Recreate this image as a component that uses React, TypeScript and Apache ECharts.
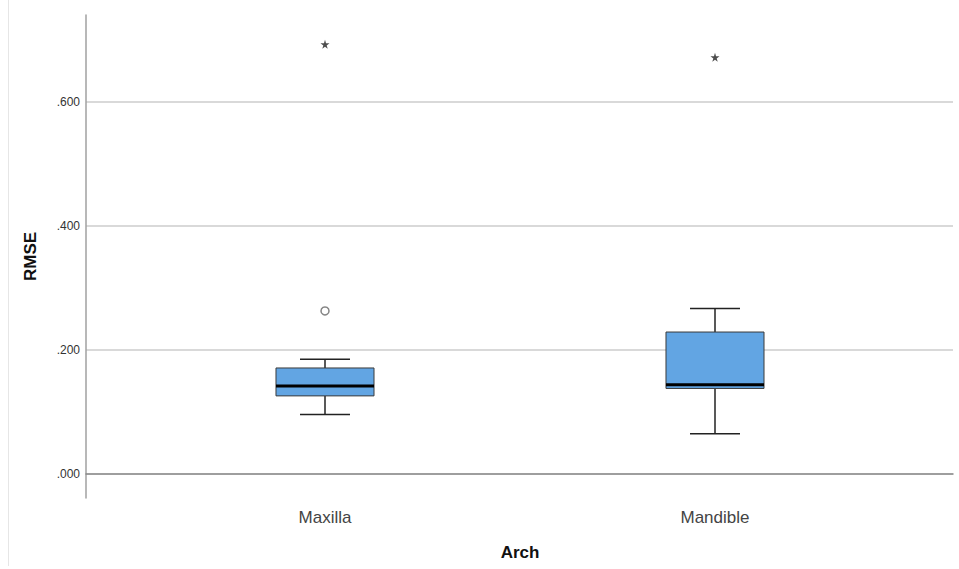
import React, { useEffect, useRef } from "react";
import * as echarts from "echarts";

const categories = ["Maxilla", "Mandible"];
const lowWhisker = [0.096, 0.065];
const q1Values = [0.126, 0.138];
const medianValues = [0.142, 0.144];
const q3Values = [0.171, 0.229];
const highWhisker = [0.185, 0.267];
const outlierPoints = [[0, 0.263]];
const extremePoints = [
  [0, 0.693],
  [1, 0.672],
];
const yMin = -0.0387;
const yMax = 0.7403;

const FONT = "'Liberation Sans', Arial, sans-serif";
const STAR =
  "path://M50,0 L61,35 L98,35 L68,57 L79,91 L50,70 L21,91 L32,57 L2,35 L39,35 Z";

export default function App() {
  const ref = useRef<HTMLDivElement>(null);

  useEffect(() => {
    if (!ref.current) return;
    const chart = echarts.init(ref.current, null, { renderer: "svg" });
    const boxData = categories.map((_, i) => [
      i,
      lowWhisker[i],
      q1Values[i],
      medianValues[i],
      q3Values[i],
      highWhisker[i],
    ]);

    chart.setOption({
      animation: false,
      backgroundColor: "#ffffff",
      textStyle: { fontFamily: FONT },
      graphic: [
        {
          type: "line",
          shape: { x1: 8.5, y1: 0, x2: 8.5, y2: 566 },
          style: { stroke: "#e6e6e6", lineWidth: 1 },
          silent: true,
        },
      ],
      grid: [
        { left: 86, right: 6, top: 15, bottom: 71 },
        { left: 130, right: 49, top: 15, bottom: 71 },
      ],
      xAxis: [
        {
          gridIndex: 0,
          type: "value",
          min: 0,
          max: 1,
          axisLine: { show: true, lineStyle: { color: "#8a8a8a", width: 1.5 } },
          axisTick: { show: false },
          axisLabel: { show: false },
          splitLine: { show: false },
        },
        {
          gridIndex: 1,
          type: "category",
          data: categories,
          axisLine: { show: false },
          axisTick: { show: false },
          axisLabel: {
            color: "#444",
            fontSize: 17,
            margin: 11,
            fontFamily: FONT,
          },
          name: "Arch",
          nameLocation: "middle",
          nameGap: 46,
          nameTextStyle: {
            color: "#111",
            fontSize: 17,
            fontWeight: "bold",
            fontFamily: FONT,
          },
        },
      ],
      yAxis: [
        {
          gridIndex: 0,
          type: "value",
          min: yMin,
          max: yMax,
          splitNumber: 4,
          axisLine: { show: true, lineStyle: { color: "#a0a0a0", width: 1.5 } },
          axisTick: { show: false },
          axisLabel: {
            color: "#333",
            fontSize: 12,
            margin: 6,
            showMinLabel: false,
            showMaxLabel: false,
            formatter: (v: number) => v.toFixed(3).replace(/^0/, ""),
          },
          splitLine: {
            show: true,
            showMinLine: false,
            showMaxLine: false,
            lineStyle: { color: "#d9d9d9", width: 2 },
          },
          name: "RMSE",
          nameLocation: "middle",
          nameGap: 47,
          nameTextStyle: {
            color: "#111",
            fontSize: 17,
            fontWeight: "bold",
            fontFamily: FONT,
          },
        },
        {
          gridIndex: 1,
          type: "value",
          min: yMin,
          max: yMax,
          show: false,
          splitLine: { show: false },
        },
      ],
      series: [
        {
          type: "custom",
          xAxisIndex: 1,
          yAxisIndex: 1,
          dimensions: ["x", "low", "q1", "med", "q3", "high"],
          encode: { x: 0, y: [1, 2, 3, 4, 5] },
          data: boxData,
          renderItem: (params: any, api: any) => {
            const x = api.value(0);
            const pLow = api.coord([x, api.value(1)]);
            const pQ1 = api.coord([x, api.value(2)]);
            const pMed = api.coord([x, api.value(3)]);
            const pQ3 = api.coord([x, api.value(4)]);
            const pHigh = api.coord([x, api.value(5)]);
            const band = api.size([1, 0])[0];
            const bw = band * 0.2513;
            const cw = bw * 0.51;
            const cx = pLow[0];
            const wStyle = { stroke: "#222", lineWidth: 1.5 };
            return {
              type: "group",
              children: [
                {
                  type: "line",
                  shape: { x1: cx, y1: pHigh[1], x2: cx, y2: pQ3[1] },
                  style: wStyle,
                },
                {
                  type: "line",
                  shape: { x1: cx, y1: pQ1[1], x2: cx, y2: pLow[1] },
                  style: wStyle,
                },
                {
                  type: "line",
                  shape: { x1: cx - cw / 2, y1: pHigh[1], x2: cx + cw / 2, y2: pHigh[1] },
                  style: wStyle,
                },
                {
                  type: "line",
                  shape: { x1: cx - cw / 2, y1: pLow[1], x2: cx + cw / 2, y2: pLow[1] },
                  style: wStyle,
                },
                {
                  type: "rect",
                  shape: { x: cx - bw / 2, y: pQ3[1], width: bw, height: pQ1[1] - pQ3[1] },
                  style: { fill: "#62a5e3", stroke: "#3a3a3a", lineWidth: 1 },
                },
                {
                  type: "line",
                  shape: { x1: cx - bw / 2, y1: pMed[1], x2: cx + bw / 2, y2: pMed[1] },
                  style: { stroke: "#000", lineWidth: 3 },
                },
              ],
            };
          },
        },
        {
          type: "scatter",
          xAxisIndex: 1,
          yAxisIndex: 1,
          data: outlierPoints,
          symbol: "circle",
          symbolSize: 8,
          itemStyle: { color: "#ffffff", borderColor: "#666", borderWidth: 1.5 },
        },
        {
          type: "scatter",
          xAxisIndex: 1,
          yAxisIndex: 1,
          data: extremePoints,
          symbol: STAR,
          symbolSize: 9,
          itemStyle: { color: "#222" },
        },
      ],
    });
    return () => chart.dispose();
  }, []);

  return (
    <div
      ref={ref}
      style={{ position: "fixed", left: 0, top: 0, width: 959, height: 569 }}
    />
  );
}
